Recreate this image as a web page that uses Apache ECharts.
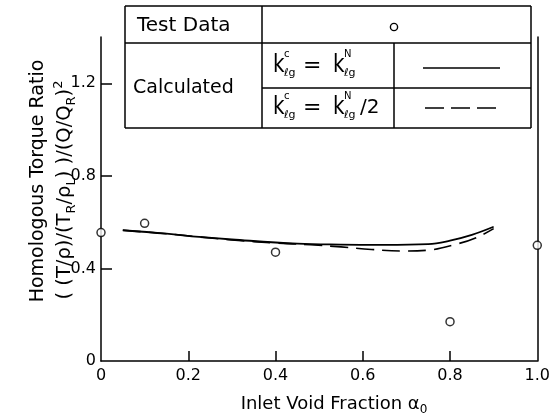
<!DOCTYPE html>
<html>
<head>
<meta charset="utf-8">
<script src="https://cdn.jsdelivr.net/npm/echarts@6/dist/echarts.min.js"></script>
<style>html,body{margin:0;padding:0;background:#fff;}#c{width:553px;height:417px;}</style>
</head>
<body>
<div id="c"></div>
<script>
// ---- data ----
const alphaTest = [0, 0.1, 0.4, 0.8, 1.0];
const ratioTest = [0.555, 0.595, 0.47, 0.17, 0.5];

const alphaSolid = [0.05, 0.15, 0.225, 0.3, 0.45, 0.55, 0.65, 0.75, 0.8, 0.85, 0.9];
const ratioSolid = [0.565, 0.55, 0.536, 0.525, 0.507, 0.503, 0.502, 0.505, 0.52, 0.545, 0.58];

const alphaDashed = [0.05, 0.15, 0.225, 0.3, 0.4, 0.48, 0.55, 0.62, 0.69, 0.75, 0.815, 0.86, 0.9];
const ratioDashed = [0.565, 0.55, 0.536, 0.523, 0.51, 0.502, 0.493, 0.482, 0.475, 0.479, 0.505, 0.533, 0.572];

const xTicks = [0, 0.2, 0.4, 0.6, 0.8, 1.0];
const yTickLabels = [0, 0.4, 0.8, 1.2];
const yTickMarks = [0.4, 0.8, 1.2];

const zip = (a, b) => a.map((v, i) => [v, b[i]]);
const FF = 'DejaVu Sans';
const fmt = v => (v === 0 ? '0' : v.toFixed(1));

function txt(x, y, text, size, extra) {
  return Object.assign({
    type: 'text', x: x, y: y,
    style: { text: text, fontSize: size, fontFamily: FF, fill: '#000', align: 'left', verticalAlign: 'middle' }
  }, extra || {});
}
function seg(x1, y1, x2, y2, dash) {
  return { type: 'line', shape: { x1: x1, y1: y1, x2: x2, y2: y2 },
    style: { stroke: '#000', lineWidth: 1.5, lineDash: dash || null } };
}
// k with sup / sub
function kTerm(x, y, sup) {
  return [
    txt(x, y, 'k', 20, { scaleY: 1.25 }),
    txt(x + 11, y - 11, sup, 10),
    txt(x + 11, y + 8, 'ℓg', 11)
  ];
}

const graphics = [];
// table
const L = 125, R = 531, T = 6, B = 128, r1 = 43, r2 = 88, c1 = 262, c2 = 394;
graphics.push(seg(L, T, R, T), seg(L, B, R, B), seg(L, T, L, B), seg(R, T, R, B),
  seg(L, r1, R, r1), seg(c1, r2, R, r2), seg(c1, T, c1, B), seg(c2, r1, c2, B));
graphics.push(txt(137, 26, 'Test Data', 20), txt(133, 88, 'Calculated', 19));
graphics.push({ type: 'circle', shape: { cx: 394, cy: 27, r: 3.6 }, style: { fill: '#fff', stroke: '#000', lineWidth: 1.4 } });
// row 1
graphics.push(...kTerm(273, 65, 'c'), txt(303, 66, '=', 22), ...kTerm(333, 65, 'N'));
graphics.push(seg(423, 68, 500, 68));
// row 2
graphics.push(...kTerm(273, 107, 'c'), txt(303, 108, '=', 22), ...kTerm(333, 107, 'N'), txt(360, 108, '/2', 20));
graphics.push(seg(425, 108, 498, 108, [19, 7]));
// axis titles
graphics.push({
  type: 'text', x: 38, y: 181, rotation: Math.PI / 2,
  style: { text: 'Homologous Torque Ratio', fontSize: 19, fontFamily: FF, fill: '#000', align: 'center', verticalAlign: 'middle' }
});
graphics.push({
  type: 'text', x: 65, y: 190, rotation: Math.PI / 2,
  style: {
    text: '{n|( (T/ρ)/(T}{s|R}{n|/ρ}{s|L}{n|) )/(Q/Q}{s|R}{n|)}{p|2}',
    fontFamily: FF, fill: '#000', align: 'center', verticalAlign: 'middle',
    rich: {
      n: { fontSize: 19.5, fontFamily: FF, lineHeight: 26, verticalAlign: 'middle' },
      s: { fontSize: 13, fontFamily: FF, lineHeight: 14, verticalAlign: 'bottom' },
      p: { fontSize: 13, fontFamily: FF, lineHeight: 14, verticalAlign: 'top' }
    }
  }
});
graphics.push({
  type: 'text', x: 334, y: 404,
  style: {
    text: '{n|Inlet Void Fraction α}{s|0}',
    fontFamily: FF, fill: '#000', align: 'center', verticalAlign: 'middle',
    rich: {
      n: { fontSize: 18, fontFamily: FF, lineHeight: 24, verticalAlign: 'middle' },
      s: { fontSize: 12, fontFamily: FF, lineHeight: 12, verticalAlign: 'bottom' }
    }
  }
});

const chart = echarts.init(document.getElementById('c'), null, { renderer: 'canvas' });
chart.setOption({
  animation: false,
  backgroundColor: '#fff',
  grid: { left: 101, right: 11, top: 37, bottom: 56 },
  xAxis: {
    type: 'value', min: 0, max: 1, interval: 0.2,
    axisLine: { show: true, onZero: false, lineStyle: { color: '#000', width: 1.5 } },
    axisTick: { show: true, inside: true, length: 10, customValues: xTicks.slice(1, -1), lineStyle: { color: '#000', width: 1.5 } },
    axisLabel: { customValues: xTicks, formatter: fmt, color: '#000', fontSize: 16, fontFamily: FF, margin: 7 },
    splitLine: { show: false }
  },
  yAxis: [{
    type: 'value', min: 0, max: 1.4, interval: 0.4,
    axisLine: { show: true, onZero: false, lineStyle: { color: '#000', width: 1.5 } },
    axisTick: { show: true, inside: true, length: 11, customValues: yTickMarks, lineStyle: { color: '#000', width: 1.5 } },
    axisLabel: { customValues: yTickLabels, formatter: fmt, color: '#000', fontSize: 16, fontFamily: FF, margin: 5 },
    splitLine: { show: false }
  }, {
    type: 'value', min: 0, max: 1.4, position: 'right',
    axisLine: { show: true, onZero: false, lineStyle: { color: '#000', width: 1.5 } },
    axisTick: { show: false }, axisLabel: { show: false }, splitLine: { show: false }
  }],
  series: [
    { name: 'Calculated kc=kN', type: 'line', data: zip(alphaSolid, ratioSolid), smooth: 0.4, showSymbol: false,
      lineStyle: { color: '#000', width: 1.8 } },
    { name: 'Calculated kc=kN/2', type: 'line', data: zip(alphaDashed, ratioDashed), smooth: 0.4, showSymbol: false,
      lineStyle: { color: '#000', width: 1.6, type: [18, 8] } },
    { name: 'Test Data', type: 'scatter', data: zip(alphaTest, ratioTest), symbol: 'circle', symbolSize: 8, clip: false, z: 5,
      itemStyle: { color: '#fff', borderColor: '#000', borderWidth: 1.5 } }
  ],
  graphic: graphics
});
</script>
</body>
</html>
